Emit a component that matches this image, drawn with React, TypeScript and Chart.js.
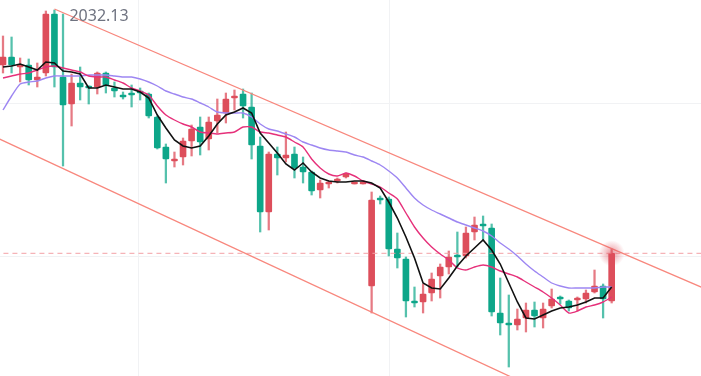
import React, { useEffect, useRef } from 'react';
import { Chart, registerables } from 'chart.js';

Chart.register(...registerables);

// OHLC per candle (price)
const opens = [2026.63,2027.43,2026.43,2026.63,2025.13,2025.83,2031.73,2025.43,2022.73,2024.83,2024.53,2024.43,2025.83,2024.33,2023.63,2023.83,2024.03,2023.73,2021.43,2018.43,2017.03,2017.43,2019.03,2020.43,2019.23,2021.03,2021.83,2023.33,2023.73,2022.43,2018.53,2011.93,2017.73,2017.33,2017.73,2016.43,2015.93,2014.13,2014.73,2015.03,2015.43,2014.73,2014.73,2004.53,2013.23,2013.23,2008.23,2007.23,2003.03,2002.93,2003.83,2005.53,2006.43,2007.53,2007.53,2009.93,2010.63,2010.33,2001.83,2000.83,2000.63,2001.33,2002.13,2001.33,2002.53,2003.43,2003.03,2003.13,2003.23,2003.93,2004.53,2003.03];
const highs = [2029.53,2029.43,2027.33,2027.23,2026.83,2032.03,2032.13,2031.73,2025.73,2026.43,2024.53,2025.93,2025.93,2024.93,2023.93,2024.63,2024.33,2023.83,2021.53,2018.73,2017.93,2019.33,2020.63,2021.43,2021.43,2023.23,2023.83,2024.13,2024.23,2023.83,2019.43,2017.93,2018.43,2019.93,2018.43,2017.43,2016.03,2015.13,2015.03,2015.33,2015.83,2014.93,2014.93,2013.93,2013.53,2013.43,2009.83,2007.43,2004.43,2004.73,2005.83,2006.73,2008.03,2009.93,2010.43,2011.43,2011.53,2010.73,2005.33,2003.63,2002.23,2002.83,2002.93,2002.83,2004.23,2003.53,2003.13,2003.43,2004.13,2006.13,2004.73,2008.23];
const lows = [2025.83,2025.83,2024.93,2024.63,2024.43,2025.53,2024.43,2016.53,2020.53,2023.13,2022.73,2023.73,2023.83,2023.43,2023.23,2022.43,2023.13,2021.33,2018.23,2014.83,2016.43,2016.63,2017.53,2017.63,2018.13,2019.83,2020.83,2022.13,2021.33,2017.23,2009.93,2010.13,2015.63,2016.93,2015.33,2014.83,2013.63,2013.33,2014.33,2014.83,2015.33,2014.73,2014.73,2001.83,2012.73,2007.53,2006.33,2001.43,2002.43,2001.83,2003.03,2003.33,2005.73,2006.43,2007.33,2009.13,2009.13,2001.53,1999.63,1996.43,2000.13,1999.93,2000.43,2000.33,2002.33,2002.73,2002.03,2002.03,2002.83,2003.83,2001.33,2002.83];
const closes = [2027.43,2026.63,2026.63,2025.13,2025.43,2031.73,2026.43,2022.63,2024.83,2024.43,2024.33,2025.83,2024.63,2024.03,2023.43,2023.63,2023.83,2021.53,2018.33,2017.23,2017.13,2019.03,2020.23,2018.93,2020.93,2021.63,2023.23,2023.53,2022.53,2018.63,2011.93,2017.73,2017.33,2017.63,2016.33,2015.93,2014.03,2014.83,2014.93,2015.23,2015.73,2014.93,2014.93,2013.13,2013.13,2008.23,2007.33,2003.03,2002.83,2003.73,2005.23,2006.43,2007.43,2007.43,2009.83,2010.63,2010.53,2001.93,2000.83,2000.63,2001.23,2002.13,2001.53,2002.23,2003.23,2003.23,2002.33,2003.33,2003.83,2004.53,2003.23,2007.80];

// moving averages
const ma5 = [2026.43,2026.53,2026.73,2026.43,2026.13,2026.93,2026.83,2026.03,2025.93,2025.73,2024.33,2024.33,2024.63,2024.43,2024.23,2024.23,2023.93,2023.33,2021.63,2020.33,2019.13,2018.53,2018.33,2018.53,2019.53,2020.73,2021.63,2021.93,2022.33,2021.83,2019.83,2018.83,2017.83,2016.73,2016.13,2016.83,2015.93,2015.33,2015.03,2014.93,2014.93,2015.03,2015.03,2014.83,2014.33,2012.93,2011.33,2009.43,2007.33,2004.83,2004.33,2004.23,2005.33,2006.53,2007.53,2008.33,2009.13,2008.13,2006.73,2004.83,2002.93,2001.33,2001.23,2001.63,2002.03,2002.33,2002.43,2002.63,2002.93,2003.33,2003.33,2004.43];
const ma10 = [2025.33,2025.53,2025.73,2025.83,2026.13,2026.43,2026.53,2026.33,2026.13,2025.93,2025.53,2025.43,2025.43,2025.13,2024.83,2024.33,2024.03,2023.63,2022.53,2021.63,2021.13,2020.73,2020.43,2019.93,2019.83,2019.73,2019.83,2019.93,2020.43,2020.43,2019.93,2019.83,2019.63,2019.43,2018.93,2018.43,2017.23,2016.33,2015.73,2015.53,2015.83,2015.53,2015.03,2014.73,2014.43,2013.83,2013.23,2011.83,2010.43,2009.33,2008.43,2007.73,2007.13,2006.33,2006.13,2006.43,2006.63,2006.43,2006.03,2005.73,2005.43,2004.93,2004.43,2003.93,2003.33,2002.63,2001.83,2002.03,2002.43,2002.63,2002.93,2003.43];
const ma20 = [2022.13,2023.53,2024.73,2024.93,2025.03,2025.33,2025.53,2025.53,2025.53,2025.53,2025.63,2025.63,2025.63,2025.53,2025.43,2025.43,2025.23,2024.93,2024.53,2024.03,2023.73,2023.43,2023.23,2022.83,2022.43,2021.93,2021.83,2021.83,2021.83,2021.43,2020.73,2020.23,2020.03,2019.73,2019.43,2018.93,2018.63,2018.33,2018.13,2018.03,2017.93,2017.63,2017.43,2017.03,2016.63,2016.03,2015.33,2014.33,2013.33,2012.63,2012.13,2011.73,2011.33,2010.93,2010.63,2010.33,2010.03,2009.53,2008.83,2008.23,2007.53,2006.73,2006.03,2005.43,2004.83,2004.53,2004.33,2004.33,2004.33,2004.33,2004.43,2004.43];

// channel lines: [index, price] endpoints
const channelUpperX = [6, 82];
const channelUpperY = [2032.23, 2004.22];
const channelLowerX = [-1, 60];
const channelLowerY = [2019.46, 1995.14];

const currentPrice = 2007.8;
const gridX = [15.75, 45.03];
const gridY = [2022.83, 2007.53];

const RED = '#dd4e5b';
const GREEN = '#0da689';
const RED_WICK = 'rgba(221,78,91,0.75)';
const GREEN_WICK = 'rgba(13,166,137,0.7)';

export default function App() {
  const ref = useRef<HTMLCanvasElement>(null);

  useEffect(() => {
    const canvas = ref.current;
    if (!canvas) return;
    const idx = opens.map((_, i) => i);
    const up = idx.map((i) => closes[i] >= opens[i]);

    const decor = {
      id: 'decor',
      beforeDatasetsDraw(chart: any) {
        const { ctx, scales } = chart;
        const xs = scales.x;
        const ys = scales.y;
        ctx.save();
        ctx.strokeStyle = '#f1f2f4';
        ctx.lineWidth = 1;
        gridX.forEach((v) => {
          const px = Math.round(xs.getPixelForValue(v)) + 0.5;
          ctx.beginPath();
          ctx.moveTo(px, 0);
          ctx.lineTo(px, chart.height);
          ctx.stroke();
        });
        gridY.forEach((v) => {
          const py = Math.round(ys.getPixelForValue(v)) + 0.5;
          ctx.beginPath();
          ctx.moveTo(0, py);
          ctx.lineTo(chart.width, py);
          ctx.stroke();
        });
        ctx.restore();
      },
      afterDatasetsDraw(chart: any) {
        const { ctx, scales } = chart;
        const xs = scales.x;
        const ys = scales.y;
        ctx.save();
        // glow at last price
        const li = closes.length - 1;
        const gx = xs.getPixelForValue(li);
        const gy = ys.getPixelForValue(closes[li]);
        const g = ctx.createRadialGradient(gx, gy, 0, gx, gy, 13);
        g.addColorStop(0, 'rgba(221,78,91,0.6)');
        g.addColorStop(0.45, 'rgba(221,78,91,0.32)');
        g.addColorStop(1, 'rgba(221,78,91,0)');
        ctx.fillStyle = g;
        ctx.beginPath();
        ctx.arc(gx, gy, 13, 0, Math.PI * 2);
        ctx.fill();
        // max label
        let mi = 0;
        highs.forEach((h, i) => { if (h > highs[mi]) mi = i; });
        const mx = xs.getPixelForValue(mi);
        ctx.fillStyle = '#6f7380';
        ctx.font = '16px "Noto Sans"';
        ctx.textBaseline = 'alphabetic';
        ctx.textAlign = 'left';
        ctx.fillText(highs[mi].toFixed(2), mx + 15, 20.5);
        ctx.restore();
      },
    };

    const lineDs = (data: number[], color: string, width: number, order: number, tension = 0) => ({
      type: 'line' as const,
      data: idx.map((i) => ({ x: i, y: data[i] })),
      borderColor: color,
      borderWidth: width,
      pointRadius: 0,
      tension,
      order,
    });

    const chart = new Chart(canvas, {
      type: 'bar',
      data: {
        datasets: [
          {
            type: 'bar',
            data: idx.map((i) => ({ x: i, y: [lows[i], highs[i]] })) as any,
            backgroundColor: up.map((u) => (u ? RED_WICK : GREEN_WICK)),
            barThickness: 1.6,
            grouped: false,
            order: 20,
          } as any,
          {
            type: 'bar',
            data: idx.map((i) => ({ x: i, y: [opens[i], closes[i]] })) as any,
            backgroundColor: up.map((u) => (u ? RED : GREEN)),
            barThickness: 6,
            minBarLength: 2,
            borderRadius: 1,
            borderSkipped: false,
            grouped: false,
            order: 19,
          } as any,
          {
            type: 'line',
            data: [{ x: -1, y: currentPrice }, { x: 90, y: currentPrice }],
            borderColor: '#f3a0a6',
            borderWidth: 1,
            borderDash: [5, 4],
            pointRadius: 0,
            order: 15,
          } as any,
          {
            type: 'line',
            data: channelUpperX.map((x, i) => ({ x, y: channelUpperY[i] })),
            borderColor: '#f8877d',
            borderWidth: 1.3,
            pointRadius: 0,
            order: 5,
          } as any,
          {
            type: 'line',
            data: channelLowerX.map((x, i) => ({ x, y: channelLowerY[i] })),
            borderColor: '#f8877d',
            borderWidth: 1.3,
            pointRadius: 0,
            order: 5,
          } as any,
          lineDs(ma20, '#9d86f2', 1.4, 3, 0.2) as any,
          lineDs(ma10, '#e6307a', 1.4, 2, 0.2) as any,
          lineDs(ma5, '#111111', 1.6, 1, 0) as any,
        ],
      },
      options: {
        responsive: false,
        animation: false,
        devicePixelRatio: 1,
        layout: { padding: 0 },
        plugins: { legend: { display: false }, tooltip: { enabled: false } },
        scales: {
          x: { type: 'linear', min: -0.35, max: 81.42, display: false, offset: false },
          y: { type: 'linear', min: 1995.53, max: 2033.13, display: false, beginAtZero: false },
        },
      } as any,
      plugins: [decor],
    });

    return () => chart.destroy();
  }, []);

  return (
    <div style={{ position: 'fixed', left: 0, top: 0, width: 701, height: 376, background: '#fff' }}>
      <canvas ref={ref} width={701} height={376} style={{ display: 'block' }} />
    </div>
  );
}
